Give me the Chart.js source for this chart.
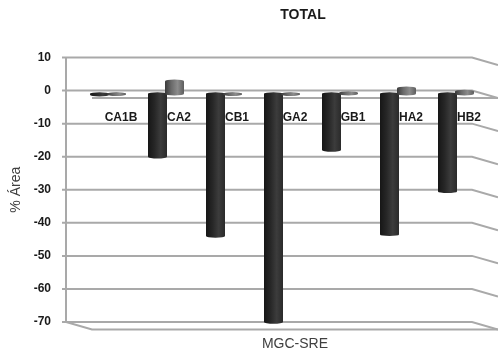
<!DOCTYPE html>
<html lang="es">
<head>
  <meta charset="UTF-8" />
  <title>TOTAL</title>
  <script src="https://cdn.jsdelivr.net/npm/chart.js"></script>
  <style>
    body { margin: 0; background: white; }
    canvas { display: block; }
  </style>
</head>
<body>
<canvas id="chart" width="498" height="360"></canvas>
<script>
  const categories = ["CA1B", "CA2", "CB1", "GA2", "GB1", "HA2", "HB2"];
  const darkValues = [-1.3, -20, -44, -70, -18, -43.5, -30.5];
  const lightValues = [-1.1, 2.8, -1.1, -1.1, -0.7, 0.7, -0.3];
  const darkBase = -1;
  const lightBase = -1;
  const yTicks = [10, 0, -10, -20, -30, -40, -50, -60, -70];

  const chartTitle = "TOTAL";
  const xTitle = "MGC-SRE";
  const yTitle = "% Área";

  const gridColor = "#a9a9a9";
  const depthX = 26, depthY = 7.5, wallShift = 13;

  function barGradient(c, left, right, stops) {
    const g = c.createLinearGradient(left, 0, right, 0);
    stops.forEach((s, i) => g.addColorStop(i / (stops.length - 1), s));
    return g;
  }
  const darkStops = ["#161616", "#262626", "#3c3c3c", "#2a2a2a"];
  const lightStops = ["#3a3a3a", "#6a6a6a", "#8c8c8c", "#5c5c5c"];

  function barFill(c) {
    const cx = c.chart.scales.x.getPixelForTick(c.dataIndex);
    return c.datasetIndex === 0
      ? barGradient(c.chart.ctx, cx - 18, cx + 1, darkStops)
      : barGradient(c.chart.ctx, cx - 1, cx + 18, lightStops);
  }

  // back wall, side wall and floor of the fake 3d box
  const wallPlugin = {
    id: "walls",
    beforeDatasetsDraw(chart) {
      const { ctx, chartArea, scales } = chart;
      const left = chartArea.left - wallShift;
      const right = chartArea.right - wallShift;
      ctx.save();
      ctx.strokeStyle = gridColor;
      ctx.lineWidth = 2;
      const line = (pts) => {
        ctx.beginPath();
        pts.forEach((p, i) => i ? ctx.lineTo(p[0], p[1]) : ctx.moveTo(p[0], p[1]));
        ctx.stroke();
      };
      yTicks.forEach(t => {
        const y = scales.y.getPixelForValue(t);
        line([[left - 4, y], [right, y], [right + depthX, y + depthY]]);
      });
      line([[left, scales.y.top], [left, scales.y.bottom], [left + depthX, scales.y.bottom + depthY], [right + depthX, scales.y.bottom + depthY]]);
      const y0 = scales.y.getPixelForValue(0);
      line([[left + depthX, y0 + depthY], [right + depthX, y0 + depthY]]);
      ctx.restore();
    },
    afterDatasetsDraw(chart) {
      const { ctx } = chart;
      ctx.save();
      chart.data.datasets.forEach((ds, di) => {
        chart.getDatasetMeta(di).data.forEach(bar => {
          const l = bar.x - bar.width / 2, r = bar.x + bar.width / 2;
          ctx.fillStyle = barGradient(ctx, l, r, di === 0 ? darkStops : lightStops);
          ctx.beginPath();
          ctx.ellipse(bar.x, bar.y, bar.width / 2, 1.7, 0, 0, Math.PI * 2);
          ctx.fill();
          ctx.beginPath();
          ctx.ellipse(bar.x, bar.base, bar.width / 2, 1.7, 0, 0, Math.PI * 2);
          ctx.fill();
        });
      });
      // chart title and x title sit off-centre in the original
      ctx.fillStyle = "#1a1a1a";
      ctx.textAlign = "center";
      ctx.textBaseline = "middle";
      ctx.font = "bold 14px 'Liberation Sans'";
      ctx.fillText(chartTitle, 303, 15);
      ctx.fillStyle = "#404040";
      ctx.font = "14px 'Liberation Sans'";
      ctx.fillText(xTitle, 295, 344);
      ctx.restore();
    }
  };

  new Chart(document.getElementById("chart"), {
    type: "bar",
    data: {
      labels: categories,
      datasets: [
        { data: darkValues, base: darkBase, backgroundColor: barFill },
        { data: lightValues, base: lightBase, backgroundColor: barFill }
      ]
    },
    options: {
      responsive: false,
      animation: false,
      layout: { padding: { top: 57.5, right: 13, bottom: 38, left: 0 } },
      datasets: {
        bar: { categoryPercentage: 0.586, barPercentage: 1.118, borderWidth: 0 }
      },
      plugins: { legend: { display: false }, tooltip: { enabled: false }, colors: { enabled: false } },
      scales: {
        x: {
          position: { y: 0 },
          z: 1,
          grid: { display: false, drawTicks: false },
          border: { display: false },
          ticks: {
            autoSkip: false, maxRotation: 0, padding: 20, labelOffset: 13,
            color: "#1a1a1a", font: { family: "'Liberation Sans'", size: 12, weight: "bold" }
          }
        },
        y: {
          min: -70, max: 10,
          afterFit(scale) { scale.width = 79; },
          grid: { display: false, drawTicks: false },
          border: { display: false },
          ticks: {
            stepSize: 10, padding: 28,
            color: "#1a1a1a", font: { family: "'Liberation Sans'", size: 12, weight: "bold" }
          },
          title: {
            display: true, text: yTitle, color: "#404040", padding: { top: 8, bottom: 0 },
            font: { family: "'Liberation Sans'", size: 14 }
          }
        }
      }
    },
    plugins: [wallPlugin]
  });
</script>
</body>
</html>
